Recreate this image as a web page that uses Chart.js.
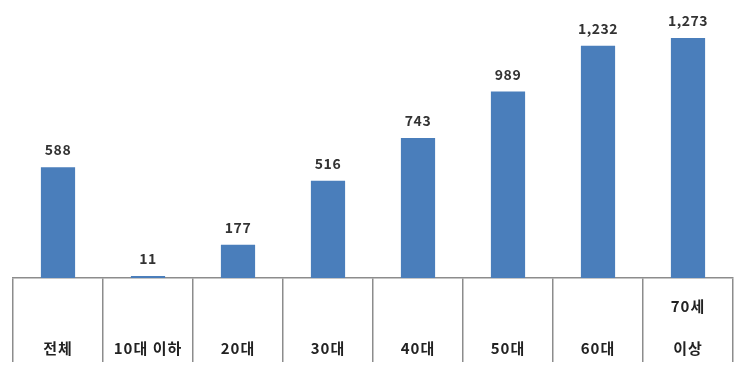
<!DOCTYPE html>
<html>
<head>
<meta charset="utf-8">
<script src="https://cdn.jsdelivr.net/npm/chart.js@4/dist/chart.umd.min.js"></script>
<style>
  html, body { margin: 0; padding: 0; background: #fff; }
  #wrap { width: 750px; height: 365px; }
</style>
</head>
<body>
<div id="wrap"><canvas id="ageChart"></canvas></div>
<script>
let AgeGroups = [["전체"], ["10대 이하"], ["20대"], ["30대"], ["40대"], ["50대"], ["60대"], ["70세", "이상"]];
let Counts = [588, 11, 177, 516, 743, 989, 1232, 1273];

const barBlue = "#4a7ebb";
const lineGray = "#8c8c8c";
const fontFamily = "'Noto Sans CJK KR', 'Noto Sans', sans-serif";

// value labels over the bars, category labels in the boxes under the axis
const labelPlugin = {
    id: "labels",
    afterDatasetsDraw(chart) {
        const ctx = chart.ctx;
        const meta = chart.getDatasetMeta(0);
        ctx.save();
        ctx.fillStyle = "#333";
        ctx.textAlign = "center";
        ctx.textBaseline = "middle";
        ctx.font = "bold 14px " + fontFamily;
        ctx.letterSpacing = "0.5px";
        meta.data.forEach((bar, i) => {
            ctx.fillText(Counts[i].toLocaleString("en-US"), bar.x, bar.y - 17);
        });
        const xScale = chart.scales.x;
        ctx.font = "bold 15px " + fontFamily;
        ctx.letterSpacing = "1px";
        ctx.fillStyle = "#222";
        AgeGroups.forEach((lines, i) => {
            const x = xScale.getPixelForValue(i);
            const last = lines.length - 1;
            lines.forEach((line, j) => {
                ctx.fillText(line, x, 348 - (last - j) * 42);
            });
        });
        ctx.restore();
    }
};

new Chart("ageChart", {
    type: "bar",
    data: {
        labels: AgeGroups.map(l => l.join(" ")),
        datasets: [{
            data: Counts,
            backgroundColor: barBlue,
            barPercentage: 0.38,
            categoryPercentage: 1
        }]
    },
    options: {
        responsive: true,
        maintainAspectRatio: false,
        animation: false,
        layout: {padding: {left: 13, right: 17, top: 0, bottom: 3}},
        plugins: {
            legend: {display: false},
            tooltip: {enabled: false}
        },
        scales: {
            x: {
                offset: true,
                grid: {
                    offset: true,
                    drawOnChartArea: false,
                    drawTicks: true,
                    tickLength: 84,
                    color: lineGray,
                    lineWidth: 1.5
                },
                border: {display: true, color: lineGray, width: 1.5},
                ticks: {display: false}
            },
            y: {
                display: false,
                min: 0,
                max: 1475
            }
        }
    },
    plugins: [labelPlugin]
});
</script>
</body>
</html>
